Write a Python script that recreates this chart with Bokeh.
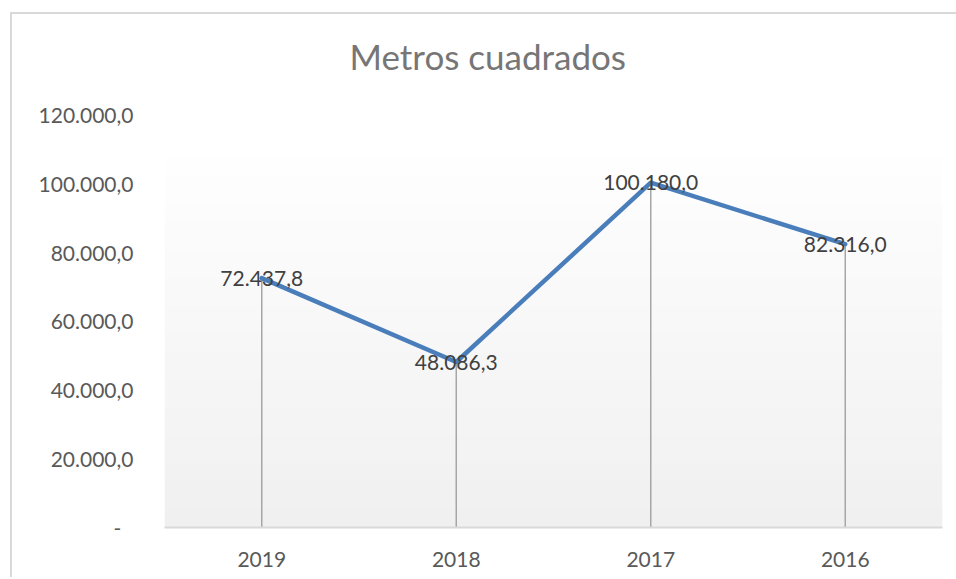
from bokeh.plotting import figure
from bokeh.layouts import column
from bokeh.models import (ColumnDataSource, FactorRange, Range1d, FixedTicker,
                          LabelSet, BoxAnnotation, InlineStyleSheet)
from bokeh.core.properties import value
from bokeh.embed import file_html
from bokeh.resources import INLINE

# ---- data ----
years = ["2019", "2018", "2017", "2016"]
metros = [72437.8, 48086.3, 100180.0, 82316.0]
y_ticks = [0, 20000, 40000, 60000, 80000, 100000, 120000]
title_text = "Metros cuadrados"


def fmt_es(v):
    s = f"{v:,.1f}"
    return s.replace(",", "X").replace(".", ",").replace("X", ".")


y_tick_labels = {t: (fmt_es(t) if t else "-\u2007") for t in y_ticks}
label_texts = [fmt_es(v) for v in metros]

FONT = "Lato"
Y_MAX = 131040  # frame extends a little above the last tick (title sits just above it)

src = ColumnDataSource(dict(x=years, y=metros, lab=label_texts, zero=[0] * len(years)))

hide_sb = InlineStyleSheet(css=":host { overflow: hidden; } * { scrollbar-width: none; } "
                               "::-webkit-scrollbar { display: none; }")

p = figure(width=944, height=563, x_range=FactorRange(*years, range_padding=0),
           y_range=Range1d(0, Y_MAX), output_backend="svg", toolbar_location=None,
           min_border_left=152, min_border_right=14, min_border_top=62,
           min_border_bottom=50, title=title_text)
p.stylesheets = [hide_sb]

p.outline_line_color = None
p.xgrid.grid_line_color = None
p.ygrid.grid_line_color = None
p.background_fill_color = "white"
p.border_fill_color = "white"

# title
p.title.align = "left"
p.title.offset = 185
p.title.vertical_align = "bottom"
p.title.standoff = 0
p.title.text_font = FONT
p.title.text_font_size = "35px"
p.title.text_font_style = "normal"
p.title.text_color = "#767676"

# gradient plot-area fill (decoration)
GRAD_TOP = 107500
n = 40
for i in range(n):
    b = GRAD_TOP * i / n
    t = GRAD_TOP * (i + 1) / n + (0 if i == n - 1 else 150)
    f = i / (n - 1)
    c = int(round(240 + (254 - 240) * f))
    p.add_layout(BoxAnnotation(bottom=b, top=t, fill_color=f"#{c:02x}{c:02x}{c:02x}",
                               fill_alpha=1, line_alpha=0, level="underlay"))

# drop lines
p.segment(x0="x", y0="zero", x1="x", y1="y", source=src, line_color="#a6a6a6", line_width=1.5)
# main line
p.line("x", "y", source=src, line_color="#4a7ebb", line_width=4.5, line_join="round",
       line_cap="round")

labels = LabelSet(x="x", y="y", text="lab", source=src, text_align="center",
                  text_baseline="middle", text_font=value(FONT), text_font_size="21px",
                  text_color="#404040")
p.add_layout(labels)

# axes
p.yaxis.ticker = FixedTicker(ticks=y_ticks)
p.yaxis.major_label_overrides = y_tick_labels
p.yaxis.axis_line_color = None
p.yaxis.major_tick_line_color = None
p.yaxis.minor_tick_line_color = None
p.yaxis.major_tick_in = 0
p.yaxis.major_tick_out = 0
p.yaxis.major_label_standoff = 31
p.yaxis.major_label_text_font = FONT
p.yaxis.major_label_text_font_size = "21px"
p.yaxis.major_label_text_color = "#595959"

xa = p.below[0]
xa.axis_line_color = "#d9d9d9"
xa.axis_line_width = 2
xa.major_tick_line_color = None
xa.minor_tick_line_color = None
xa.major_tick_in = 0
xa.major_tick_out = 0
xa.major_label_standoff = 24
xa.major_label_text_font = FONT
xa.major_label_text_font_size = "21px"
xa.major_label_text_color = "#595959"

layout = column(p, styles={"margin-left": "10px", "margin-top": "12px",
                           "border-left": "2px solid #d9d9d9",
                           "border-top": "2px solid #d9d9d9",
                           "overflow": "hidden"},
                stylesheets=[hide_sb])

open("out.html", "w").write(file_html(layout, INLINE))
